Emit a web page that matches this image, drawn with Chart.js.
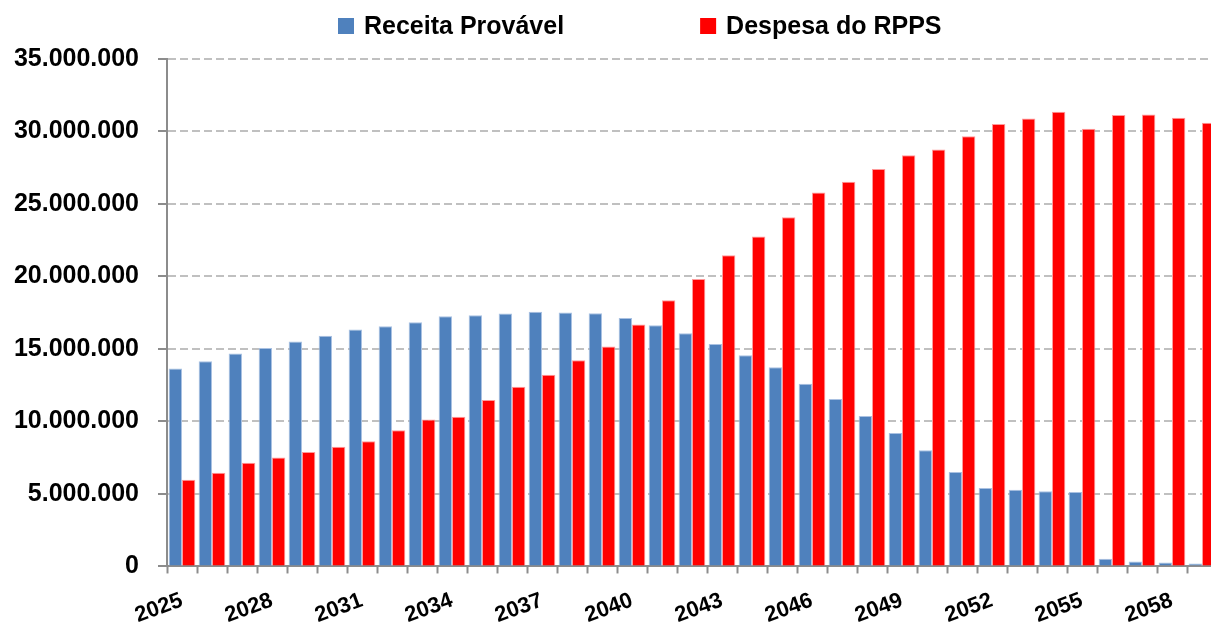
<!DOCTYPE html>
<html>
<head>
<meta charset="utf-8">
<script src="https://cdn.jsdelivr.net/npm/chart.js@4"></script>
<style>
  html, body { margin: 0; padding: 0; background: #fff; overflow: hidden; }
  #wrap { position: relative; width: 1230px; height: 643px; }
</style>
</head>
<body>
<div id="wrap"><canvas id="rppsChart"></canvas></div>
<script>
const years = [];
for (let y = 2025; y <= 2059; y++) years.push(String(y));

// Receita Provável (R$)
const receita = [
    13650000, 14150000, 14680000, 15070000, 15510000, 15920000, 16340000, 16570000, 16840000, 17260000,
    17330000, 17440000, 17560000, 17510000, 17470000, 17140000, 16640000, 16080000, 15350000, 14570000,
    13740000, 12610000, 11550000, 10380000, 9200000, 8010000, 6510000, 5410000, 5290000, 5180000,
    5130000, 530000, 350000, 280000, 210000
];

// Despesa do RPPS (R$)
const despesa = [
    5980000, 6470000, 7160000, 7520000, 7890000, 8260000, 8630000, 9390000, 10130000, 10330000,
    11480000, 12400000, 13230000, 14220000, 15170000, 16690000, 18360000, 19830000, 21470000, 22760000,
    24090000, 25800000, 26530000, 27410000, 28370000, 28760000, 29680000, 30510000, 30900000, 31360000,
    30190000, 31130000, 31180000, 30950000, 30600000
];

const yTicks = { min: 0, max: 35000000, step: 5000000 };

function formatBR(v) {
    return String(Math.round(v)).replace(/\B(?=(\d{3})+(?!\d))/g, '.');
}

const FONT = "'Liberation Sans', Arial, sans-serif";

// legend drawn on top, wide gap between the two entries like the original
const topLegend = {
    id: 'topLegend',
    afterDraw(chart, args, opts) {
        const ctx = chart.ctx;
        ctx.save();
        ctx.font = 'bold ' + opts.fontSize + 'px ' + FONT;
        ctx.textBaseline = 'middle';
        let x = opts.x;
        chart.data.datasets.forEach((ds, i) => {
            ctx.fillStyle = ds.backgroundColor;
            ctx.fillRect(x, opts.y - opts.box / 2, opts.box, opts.box);
            x += opts.box + opts.textGap;
            ctx.fillStyle = '#000';
            ctx.fillText(ds.label, x, opts.y + 1);
            x += ctx.measureText(ds.label).width + opts.itemGap;
        });
        ctx.restore();
    }
};

const ctx = document.getElementById('rppsChart');
new Chart(ctx, {
    type: 'bar',
    data: {
        labels: years,
        datasets: [
            {
                label: 'Receita Provável',
                data: receita,
                backgroundColor: '#4f81bd',
                borderColor: '#a9c1e2',
                borderWidth: 1,
                categoryPercentage: 0.89,
                barPercentage: 1.0
            },
            {
                label: 'Despesa do RPPS',
                data: despesa,
                backgroundColor: '#ff0000',
                borderColor: '#ff9a9a',
                borderWidth: 1,
                categoryPercentage: 0.89,
                barPercentage: 1.0
            }
        ]
    },
    options: {
        responsive: true,
        maintainAspectRatio: false,
        animation: false,
        layout: {
            padding: { top: 59, right: 13, left: 0, bottom: 0 }
        },
        scales: {
            x: {
                grid: {
                    display: true,
                    drawOnChartArea: false,
                    offset: true,
                    tickLength: 7,
                    tickColor: '#8c8c8c',
                    tickWidth: 2
                },
                border: { display: true, color: '#8c8c8c', width: 2 },
                ticks: {
                    autoSkip: false,
                    minRotation: 20,
                    maxRotation: 20,
                    padding: 14,
                    color: '#000',
                    font: { family: FONT, size: 22, weight: 'bold' },
                    callback: function(value, index) {
                        return index % 3 === 0 ? years[index] : '';
                    }
                }
            },
            y: {
                min: yTicks.min,
                max: yTicks.max,
                afterFit: function(scale) {
                    scale.width = 167;
                },
                grid: {
                    color: '#c0c0c0',
                    lineWidth: 2,
                    tickLength: 9,
                    tickColor: '#8c8c8c',
                    tickWidth: 2,
                    tickBorderDash: []
                },
                border: { display: true, color: '#8c8c8c', width: 2, dash: [8, 4] },
                ticks: {
                    stepSize: yTicks.step,
                    padding: 19,
                    color: '#000',
                    font: { family: FONT, size: 25, weight: 'bold' },
                    callback: function(value) {
                        return formatBR(value);
                    }
                }
            }
        },
        plugins: {
            legend: { display: false },
            tooltip: { enabled: false },
            topLegend: { x: 338, y: 26, box: 16, textGap: 10, itemGap: 136, fontSize: 25 }
        }
    },
    plugins: [topLegend]
});
</script>
</body>
</html>
